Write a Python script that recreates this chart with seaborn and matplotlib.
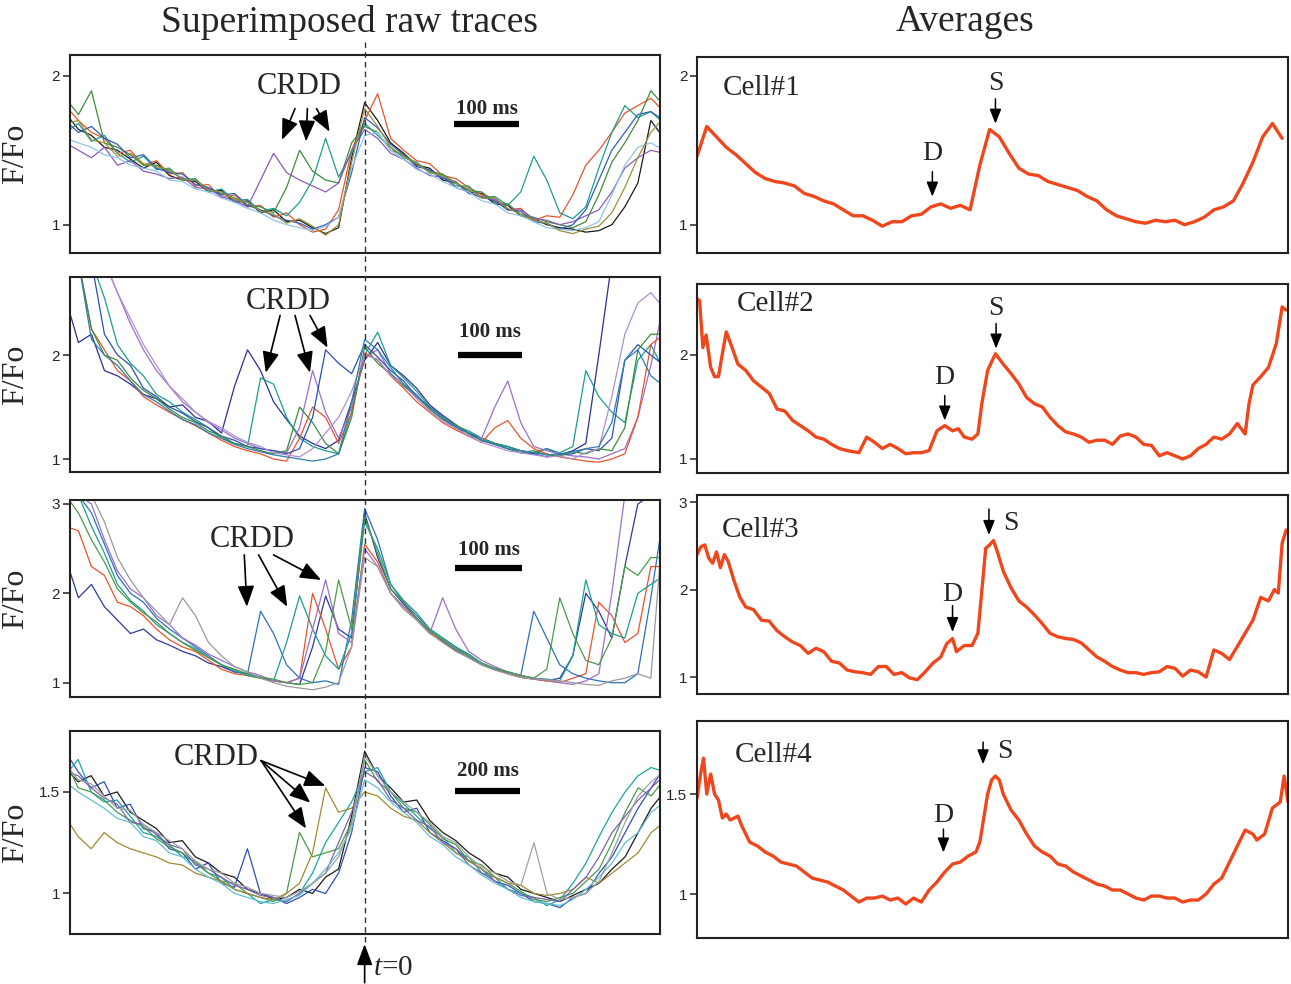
import numpy as np
import pandas as pd
import matplotlib.pyplot as plt
from matplotlib.lines import Line2D
import seaborn as sns

# sampling grids of the raw sweeps, ms from t=0
t_raw = np.arange(-460, 461, 20)
t_raw_slow = np.arange(-920, 921, 40)

# ---- superimposed raw traces (F/Fo), one list per sweep ----
raw1 = [
    [1.75, 1.64, 1.60, 1.52, 1.50, 1.44, 1.38, 1.42, 1.33, 1.30,
     1.29, 1.22, 1.23, 1.15, 1.16, 1.08, 1.10, 1.02, 1.03, 0.98,
     0.94, 0.98, 1.45, 1.82, 1.70, 1.55, 1.48, 1.40, 1.38, 1.30,
     1.28, 1.22, 1.21, 1.14, 1.13, 1.06, 1.04, 1.00, 0.98, 0.97,
     0.95, 0.96, 1.00, 1.12, 1.28, 1.70, 1.58],
    [1.80, 1.70, 1.62, 1.58, 1.48, 1.50, 1.40, 1.43, 1.34, 1.35,
     1.26, 1.27, 1.18, 1.20, 1.12, 1.13, 1.05, 1.08, 1.00, 0.95,
     0.97, 1.10, 1.50, 1.70, 1.88, 1.58, 1.50, 1.43, 1.41, 1.33,
     1.31, 1.25, 1.20, 1.18, 1.10, 1.11, 1.03, 1.06, 1.05, 1.20,
     1.40, 1.50, 1.62, 1.75, 1.80, 1.85, 1.76],
    [1.62, 1.68, 1.56, 1.60, 1.48, 1.42, 1.46, 1.37, 1.38, 1.30,
     1.31, 1.22, 1.24, 1.16, 1.17, 1.09, 1.11, 1.06, 1.15, 1.30,
     1.58, 1.32, 1.48, 1.68, 1.60, 1.52, 1.45, 1.42, 1.35, 1.33,
     1.26, 1.26, 1.18, 1.19, 1.13, 1.22, 1.46, 1.30, 1.08, 1.04,
     1.12, 1.38, 1.62, 1.80, 1.72, 1.76, 1.68],
    [1.85, 1.74, 1.90, 1.55, 1.52, 1.47, 1.40, 1.40, 1.36, 1.31,
     1.30, 1.24, 1.21, 1.18, 1.13, 1.12, 1.08, 1.25, 1.50, 1.36,
     1.30, 1.28, 1.55, 1.66, 1.62, 1.50, 1.47, 1.41, 1.36, 1.34,
     1.28, 1.23, 1.22, 1.15, 1.14, 1.07, 1.05, 1.02, 1.00, 0.98,
     1.02, 1.20, 1.42, 1.55, 1.70, 1.90, 1.80],
    [1.55, 1.50, 1.45, 1.52, 1.40, 1.43, 1.36, 1.34, 1.31, 1.32,
     1.25, 1.24, 1.19, 1.16, 1.12, 1.30, 1.48, 1.35, 1.30, 1.26,
     1.22, 1.28, 1.50, 1.64, 1.58, 1.48, 1.44, 1.38, 1.33, 1.32,
     1.25, 1.22, 1.18, 1.17, 1.10, 1.10, 1.04, 1.03, 1.00, 1.02,
     1.06, 1.10, 1.22, 1.38, 1.45, 1.50, 1.48],
    [1.70, 1.62, 1.66, 1.58, 1.54, 1.45, 1.47, 1.38, 1.35, 1.34,
     1.27, 1.25, 1.20, 1.21, 1.13, 1.10, 1.06, 1.03, 1.01, 0.97,
     1.00, 1.05, 1.35, 1.72, 1.65, 1.54, 1.47, 1.39, 1.37, 1.31,
     1.29, 1.21, 1.19, 1.16, 1.10, 1.09, 1.02, 1.01, 0.97, 1.00,
     1.10, 1.30, 1.50, 1.62, 1.74, 1.76, 1.70],
    [1.58, 1.55, 1.52, 1.47, 1.45, 1.40, 1.38, 1.36, 1.30, 1.29,
     1.24, 1.22, 1.18, 1.15, 1.11, 1.08, 1.03, 1.00, 0.98, 0.96,
     0.99, 1.05, 1.38, 1.60, 1.62, 1.50, 1.44, 1.37, 1.34, 1.29,
     1.25, 1.22, 1.16, 1.14, 1.08, 1.06, 1.02, 0.98, 0.97, 0.96,
     0.98, 1.02, 1.20, 1.40, 1.52, 1.55, 1.50],
    [1.68, 1.70, 1.57, 1.55, 1.46, 1.48, 1.41, 1.39, 1.37, 1.30,
     1.30, 1.23, 1.22, 1.17, 1.15, 1.09, 1.07, 1.01, 1.04, 0.99,
     0.93, 1.00, 1.42, 1.78, 1.66, 1.52, 1.46, 1.41, 1.35, 1.33,
     1.28, 1.24, 1.18, 1.18, 1.11, 1.07, 1.03, 1.01, 0.96, 0.94,
     0.97, 0.99, 1.08, 1.25, 1.45, 1.62, 1.72],
]
raw2 = [
    [2.55, 2.12, 2.20, 1.85, 1.80, 1.72, 1.62, 1.58, 1.50, 1.52,
     1.40, 1.36, 1.25, 1.70, 2.05, 1.85, 1.55, 1.38, 1.22, 1.15,
     1.10, 1.18, 1.55, 1.95, 2.12, 1.90, 1.80, 1.68, 1.52, 1.42,
     1.33, 1.25, 1.20, 1.15, 1.12, 1.08, 1.06, 1.10, 1.04, 1.08,
     1.15, 2.00, 2.90, 2.90, 2.90, 2.90, 2.90],
    [2.90, 2.90, 2.90, 2.55, 2.10, 1.92, 1.80, 1.62, 1.55, 1.45,
     1.38, 1.30, 1.20, 1.15, 1.12, 1.78, 1.72, 1.40, 1.20, 1.12,
     1.08, 1.05, 1.45, 2.00, 2.22, 1.90, 1.78, 1.65, 1.50, 1.40,
     1.32, 1.27, 1.20, 1.15, 1.12, 1.08, 1.05, 1.10, 1.06, 1.12,
     1.85, 1.60, 1.45, 1.35, 1.95, 2.10, 1.85],
    [2.90, 2.90, 2.90, 2.90, 2.60, 2.30, 2.05, 1.85, 1.70, 1.55,
     1.45, 1.35, 1.28, 1.20, 1.15, 1.10, 1.08, 1.06, 1.30, 1.85,
     1.45, 1.20, 1.50, 1.98, 2.05, 1.82, 1.72, 1.62, 1.48, 1.38,
     1.30, 1.22, 1.20, 1.50, 1.75, 1.35, 1.12, 1.08, 1.05, 1.03,
     1.02, 1.00, 1.05, 1.10, 1.40, 1.90, 2.50],
    [2.90, 2.90, 2.25, 2.05, 1.85, 1.75, 1.60, 1.52, 1.45, 1.38,
     1.32, 1.25, 1.18, 1.12, 1.08, 1.05, 1.00, 0.98, 1.20, 1.50,
     1.40, 1.15, 1.45, 2.02, 1.95, 1.80, 1.68, 1.55, 1.45, 1.35,
     1.28, 1.22, 1.16, 1.30, 1.37, 1.20, 1.10, 1.05, 1.02, 1.00,
     0.98, 0.97, 1.00, 1.05, 1.40, 2.10, 2.20],
    [2.90, 2.90, 2.90, 2.20, 2.00, 1.90, 1.68, 1.60, 1.50, 1.44,
     1.36, 1.30, 1.22, 1.18, 1.12, 1.10, 1.08, 1.05, 1.10, 1.40,
     2.05, 1.92, 1.82, 2.10, 1.98, 1.85, 1.75, 1.60, 1.50, 1.40,
     1.30, 1.25, 1.18, 1.14, 1.10, 1.06, 1.05, 1.02, 1.04, 1.05,
     1.10, 1.08, 1.20, 1.95, 2.10, 2.00, 1.90],
    [2.90, 2.90, 2.25, 2.00, 1.95, 1.78, 1.66, 1.58, 1.48, 1.40,
     1.35, 1.27, 1.22, 1.15, 1.12, 1.08, 1.05, 1.08, 1.50, 1.35,
     1.15, 1.05, 1.40, 2.08, 1.92, 1.82, 1.70, 1.60, 1.48, 1.38,
     1.33, 1.24, 1.18, 1.15, 1.10, 1.06, 1.08, 1.04, 1.03, 1.07,
     1.05, 1.10, 1.08, 1.30, 2.05, 2.20, 2.20],
    [2.90, 2.90, 2.90, 2.90, 2.60, 2.35, 2.10, 1.90, 1.70, 1.58,
     1.45, 1.36, 1.30, 1.22, 1.16, 1.12, 1.06, 1.04, 1.02, 1.10,
     1.25, 1.40, 1.65, 2.00, 1.96, 1.80, 1.72, 1.58, 1.46, 1.36,
     1.30, 1.22, 1.16, 1.12, 1.08, 1.06, 1.04, 1.02, 1.03, 1.00,
     1.06, 1.10, 1.60, 2.20, 2.50, 2.60, 2.45],
    [2.90, 2.90, 2.15, 2.00, 1.90, 1.75, 1.62, 1.55, 1.46, 1.38,
     1.33, 1.25, 1.20, 1.14, 1.10, 1.07, 1.04, 1.02, 1.00, 0.98,
     1.00, 1.05, 1.55, 2.15, 2.05, 1.88, 1.72, 1.60, 1.50, 1.40,
     1.31, 1.25, 1.18, 1.14, 1.10, 1.08, 1.06, 1.04, 1.05, 1.07,
     1.10, 1.12, 1.35, 1.95, 2.05, 1.80, 1.70],
]
raw3 = [
    [2.40, 1.95, 2.10, 1.85, 1.70, 1.55, 1.60, 1.48, 1.42, 1.35,
     1.30, 1.22, 1.18, 1.12, 1.10, 1.06, 1.02, 1.00, 0.98, 1.40,
     1.97, 1.60, 1.50, 2.90, 2.40, 2.05, 1.88, 1.72, 1.58, 1.46,
     1.36, 1.28, 1.20, 1.15, 1.10, 1.06, 1.04, 1.02, 1.05, 1.30,
     2.00, 1.80, 1.50, 2.30, 3.00, 3.10, 3.10],
    [2.75, 2.70, 2.30, 2.20, 1.90, 1.85, 1.75, 1.60, 1.48, 1.40,
     1.35, 1.25, 1.15, 1.10, 1.08, 1.05, 1.02, 1.00, 1.05, 2.00,
     1.60, 1.15, 1.40, 2.55, 2.35, 2.00, 1.85, 1.72, 1.56, 1.48,
     1.38, 1.30, 1.20, 1.15, 1.10, 1.06, 1.04, 1.02, 1.00, 1.05,
     1.10, 1.90, 1.75, 1.45, 1.55, 2.30, 2.30],
    [3.10, 3.10, 2.90, 2.55, 2.20, 2.00, 1.90, 1.72, 1.60, 1.50,
     1.40, 1.30, 1.20, 1.12, 1.10, 1.80, 1.55, 1.20, 1.05, 1.00,
     1.02, 0.98, 1.70, 2.95, 2.60, 2.10, 1.90, 1.75, 1.60, 1.50,
     1.40, 1.30, 1.20, 1.15, 1.12, 1.08, 1.80, 1.50, 1.20, 1.10,
     1.05, 1.02, 1.00, 1.00, 1.10, 1.95, 2.90],
    [3.10, 3.10, 2.75, 2.45, 2.10, 1.92, 1.80, 1.65, 1.55, 1.45,
     1.38, 1.28, 1.20, 1.14, 1.08, 1.05, 1.02, 1.45, 1.97, 1.60,
     1.30, 1.15, 1.55, 2.80, 2.50, 2.10, 1.92, 1.78, 1.60, 1.50,
     1.40, 1.32, 1.22, 1.16, 1.12, 1.08, 1.05, 1.04, 1.02, 1.30,
     2.15, 1.65, 1.55, 1.50, 2.00, 2.10, 2.20],
    [3.10, 3.10, 3.00, 2.60, 2.25, 2.05, 1.95, 1.75, 1.65, 1.50,
     1.42, 1.32, 1.25, 1.18, 1.12, 1.08, 1.02, 1.00, 1.05, 1.60,
     2.15, 1.55, 1.45, 2.50, 2.30, 2.00, 1.85, 1.70, 1.55, 1.95,
     1.60, 1.35, 1.25, 1.18, 1.12, 1.08, 1.05, 1.03, 1.00, 0.98,
     1.02, 1.10, 2.00, 3.10, 3.10, 3.10, 3.10],
    [3.10, 2.90, 2.60, 2.35, 2.05, 1.90, 1.78, 1.68, 1.55, 1.45,
     1.36, 1.28, 1.20, 1.15, 1.10, 1.06, 1.04, 1.00, 0.98, 1.00,
     1.35, 2.15, 1.60, 2.85, 2.45, 2.05, 1.90, 1.72, 1.58, 1.48,
     1.38, 1.30, 1.22, 1.16, 1.12, 1.08, 1.05, 1.15, 1.95, 1.55,
     1.25, 1.20, 1.50, 2.30, 2.20, 2.40, 2.40],
    [3.10, 3.10, 3.10, 2.80, 2.40, 2.15, 1.95, 1.80, 1.65, 1.95,
     1.75, 1.45, 1.30, 1.18, 1.12, 1.05, 1.00, 0.96, 0.94, 0.92,
     0.95, 1.00, 1.40, 2.40, 2.30, 2.00, 1.82, 1.70, 1.55, 1.45,
     1.35, 1.28, 1.20, 1.14, 1.10, 1.06, 1.04, 1.03, 1.02, 1.00,
     0.98, 0.97, 1.02, 1.05, 1.10, 1.05, 2.90],
]
raw4 = [
    [1.62, 1.55, 1.58, 1.48, 1.50, 1.40, 1.36, 1.32, 1.25, 1.26,
     1.18, 1.15, 1.10, 1.08, 1.02, 1.00, 0.97, 0.98, 1.02, 1.00,
     1.08, 1.12, 1.38, 1.70, 1.58, 1.52, 1.45, 1.46, 1.36, 1.30,
     1.26, 1.20, 1.16, 1.10, 1.08, 1.02, 1.00, 0.98, 0.96, 0.99,
     1.02, 1.05, 1.12, 1.18, 1.30, 1.42, 1.50],
    [1.70, 1.60, 1.52, 1.55, 1.42, 1.44, 1.32, 1.30, 1.22, 1.20,
     1.12, 1.15, 1.05, 1.03, 1.22, 1.00, 0.98, 0.95, 0.98, 1.02,
     1.00, 1.10, 1.30, 1.62, 1.60, 1.48, 1.40, 1.42, 1.30, 1.26,
     1.22, 1.16, 1.12, 1.06, 1.04, 1.00, 0.96, 0.95, 0.93, 0.98,
     1.00, 1.10, 1.18, 1.30, 1.42, 1.52, 1.62],
    [1.58, 1.66, 1.50, 1.45, 1.46, 1.38, 1.30, 1.28, 1.24, 1.18,
     1.16, 1.10, 1.08, 1.02, 1.00, 0.95, 0.97, 0.96, 1.00, 1.10,
     1.25, 1.35, 1.45, 1.60, 1.62, 1.50, 1.44, 1.38, 1.32, 1.28,
     1.20, 1.18, 1.10, 1.08, 1.02, 1.00, 0.98, 0.94, 0.97, 1.05,
     1.15, 1.28, 1.40, 1.50, 1.58, 1.62, 1.60],
    [1.66, 1.52, 1.50, 1.46, 1.40, 1.36, 1.33, 1.27, 1.23, 1.20,
     1.15, 1.10, 1.06, 1.05, 1.00, 0.98, 0.96, 1.00, 1.30, 1.18,
     1.20, 1.22, 1.35, 1.66, 1.55, 1.50, 1.42, 1.40, 1.34, 1.27,
     1.24, 1.16, 1.14, 1.08, 1.05, 1.01, 0.97, 0.96, 0.98, 1.00,
     1.06, 1.12, 1.25, 1.40, 1.52, 1.48, 1.56],
    [1.38, 1.28, 1.22, 1.30, 1.25, 1.22, 1.20, 1.18, 1.15, 1.14,
     1.10, 1.08, 1.06, 1.02, 1.00, 0.98, 0.97, 1.00, 1.05, 1.20,
     1.52, 1.40, 1.42, 1.50, 1.48, 1.42, 1.38, 1.36, 1.30, 1.25,
     1.20, 1.16, 1.12, 1.08, 1.05, 1.04, 1.00, 0.99, 1.00, 1.02,
     1.08, 1.05, 1.10, 1.15, 1.20, 1.30, 1.35],
    [1.60, 1.58, 1.52, 1.47, 1.44, 1.35, 1.34, 1.29, 1.24, 1.22,
     1.14, 1.12, 1.08, 1.04, 1.02, 0.99, 0.98, 0.96, 1.00, 1.05,
     1.10, 1.25, 1.40, 1.60, 1.56, 1.46, 1.42, 1.36, 1.33, 1.25,
     1.22, 1.14, 1.10, 1.06, 1.02, 0.99, 0.98, 0.97, 0.96, 1.02,
     1.08, 1.18, 1.30, 1.38, 1.46, 1.52, 1.58],
    [1.55, 1.50, 1.46, 1.42, 1.37, 1.35, 1.28, 1.26, 1.20, 1.18,
     1.12, 1.08, 1.05, 1.00, 0.98, 0.96, 0.95, 0.97, 0.99, 1.05,
     1.12, 1.20, 1.32, 1.56, 1.52, 1.45, 1.40, 1.35, 1.28, 1.24,
     1.18, 1.14, 1.09, 1.05, 1.02, 0.98, 0.96, 0.95, 0.94, 0.97,
     1.02, 1.08, 1.15, 1.25, 1.30, 1.40, 1.45],
    [1.64, 1.56, 1.54, 1.48, 1.42, 1.41, 1.34, 1.30, 1.26, 1.22,
     1.16, 1.12, 1.10, 1.05, 1.03, 1.00, 0.99, 0.98, 1.01, 1.05,
     1.10, 1.18, 1.34, 1.68, 1.58, 1.50, 1.45, 1.40, 1.35, 1.28,
     1.25, 1.18, 1.13, 1.10, 1.06, 1.04, 1.25, 1.00, 0.97, 0.98,
     1.00, 1.06, 1.20, 1.35, 1.48, 1.55, 1.60],
]

# ---- averages (time in ms from window start, F/Fo) ----
cell1_t = np.arange(0, 901, 15)
cell1_f = [1.46, 1.66, 1.59, 1.52, 1.47, 1.41, 1.35, 1.31, 1.29, 1.28,
           1.26, 1.21, 1.19, 1.16, 1.14, 1.10, 1.06, 1.06, 1.03, 0.99,
           1.02, 1.02, 1.06, 1.07, 1.12, 1.14, 1.11, 1.13, 1.10, 1.40,
           1.64, 1.59, 1.48, 1.38, 1.34, 1.33, 1.29, 1.27, 1.25, 1.23,
           1.19, 1.16, 1.10, 1.06, 1.04, 1.02, 1.01, 1.03, 1.02, 1.03,
           1.00, 1.02, 1.05, 1.10, 1.12, 1.16, 1.28, 1.42, 1.59, 1.68, 1.58]

cell2_t = [0, 4, 9, 14, 21, 27, 33, 39, 45, 51,
           63, 75, 87, 99, 111, 123, 135, 147, 159, 171,
           183, 195, 207, 219, 231, 249, 261, 273, 285, 297,
           309, 321, 333, 345, 357, 369, 381, 393, 402, 411,
           423, 432, 438, 447, 459, 471, 483, 495, 507, 519,
           531, 543, 555, 567, 579, 591, 603, 615, 627, 639,
           651, 663, 675, 687, 699, 711, 723, 735, 747, 759,
           771, 783, 795, 807, 819, 831, 843, 849, 855, 867,
           879, 891, 900, 906]
cell2_f = [2.54, 2.52, 2.07, 2.19, 1.88, 1.79, 1.79, 2.01, 2.22, 2.12,
           1.91, 1.85, 1.75, 1.69, 1.63, 1.48, 1.46, 1.37, 1.32, 1.27,
           1.21, 1.19, 1.14, 1.10, 1.08, 1.06, 1.21, 1.16, 1.10, 1.14,
           1.10, 1.05, 1.06, 1.06, 1.08, 1.27, 1.32, 1.27, 1.29, 1.21,
           1.19, 1.24, 1.53, 1.85, 2.01, 1.91, 1.82, 1.72, 1.59, 1.53,
           1.50, 1.40, 1.32, 1.26, 1.24, 1.21, 1.16, 1.18, 1.18, 1.14,
           1.22, 1.24, 1.21, 1.14, 1.13, 1.03, 1.06, 1.03, 1.00, 1.03,
           1.10, 1.14, 1.21, 1.19, 1.24, 1.34, 1.24, 1.53, 1.71, 1.79,
           1.88, 2.11, 2.46, 2.43]

cell3_t = [0, 6, 12, 18, 24, 30, 36, 42, 48, 57,
           66, 75, 87, 99, 111, 123, 135, 147, 159, 171,
           183, 195, 207, 219, 231, 243, 255, 267, 279, 291,
           303, 315, 327, 339, 351, 363, 375, 384, 393, 399,
           411, 423, 432, 438, 444, 450, 456, 462, 471, 483,
           495, 507, 519, 531, 543, 555, 567, 579, 591, 603,
           615, 627, 639, 651, 663, 675, 687, 699, 711, 723,
           735, 747, 759, 771, 783, 795, 807, 819, 831, 843,
           855, 867, 879, 888, 894, 900, 906, 909]
cell3_f = [2.40, 2.49, 2.51, 2.36, 2.30, 2.43, 2.25, 2.40, 2.32, 2.10,
           1.91, 1.80, 1.77, 1.65, 1.64, 1.53, 1.46, 1.40, 1.36, 1.27,
           1.33, 1.29, 1.18, 1.16, 1.08, 1.06, 1.05, 1.03, 1.12, 1.12,
           1.03, 1.05, 0.99, 0.97, 1.06, 1.16, 1.23, 1.38, 1.44, 1.29,
           1.36, 1.36, 1.50, 1.98, 2.47, 2.51, 2.56, 2.43, 2.21, 2.02,
           1.87, 1.80, 1.71, 1.61, 1.50, 1.46, 1.44, 1.43, 1.39, 1.31,
           1.23, 1.18, 1.12, 1.08, 1.05, 1.05, 1.03, 1.05, 1.06, 1.12,
           1.10, 1.01, 1.08, 1.06, 1.00, 1.31, 1.27, 1.20, 1.35, 1.50,
           1.65, 1.91, 1.87, 2.00, 1.96, 2.53, 2.68, 2.64]

cell4_t = [0, 6, 10, 15, 21, 27, 33, 39, 45, 51,
           63, 69, 81, 93, 105, 117, 129, 141, 153, 165,
           177, 189, 201, 213, 225, 237, 249, 261, 273, 285,
           297, 309, 321, 333, 345, 357, 369, 381, 393, 405,
           417, 429, 435, 441, 447, 453, 459, 465, 471, 483,
           495, 507, 519, 531, 543, 555, 567, 579, 591, 603,
           615, 627, 639, 651, 663, 675, 687, 699, 711, 723,
           735, 747, 759, 771, 783, 795, 807, 819, 831, 843,
           855, 861, 873, 885, 897, 903, 909]
cell4_f = [1.48, 1.61, 1.68, 1.50, 1.60, 1.50, 1.47, 1.38, 1.40, 1.37,
           1.39, 1.34, 1.26, 1.24, 1.21, 1.19, 1.16, 1.15, 1.14, 1.11,
           1.08, 1.07, 1.06, 1.04, 1.02, 0.99, 0.96, 0.98, 0.98, 0.99,
           0.97, 0.98, 0.95, 0.98, 0.96, 1.02, 1.06, 1.11, 1.15, 1.16,
           1.19, 1.21, 1.26, 1.38, 1.50, 1.57, 1.59, 1.57, 1.50, 1.42,
           1.37, 1.30, 1.24, 1.21, 1.19, 1.15, 1.14, 1.11, 1.09, 1.07,
           1.05, 1.04, 1.02, 1.02, 1.00, 0.98, 0.97, 0.99, 0.99, 0.98,
           0.98, 0.96, 0.97, 0.97, 1.00, 1.05, 1.08, 1.16, 1.24, 1.32,
           1.30, 1.27, 1.30, 1.43, 1.46, 1.59, 1.46]

cell_names = ["Cell#1", "Cell#2", "Cell#3", "Cell#4"]
scale_labels = ["100 ms", "100 ms", "100 ms", "200 ms"]

pal1 = ["#1a1a1a", "#e8532b", "#1b9e8f", "#3c8d3c", "#8b5bb8", "#2f5fb8", "#8ec5e8", "#9a8f3a"]
pal2 = ["#2b2f8f", "#1b9e8f", "#9a6fc9", "#e8532b", "#2d4fb5", "#3c8d3c", "#b08fd0", "#2d7fb0"]
pal3 = ["#2b3a9a", "#e8532b", "#2f6fc0", "#1b9e8f", "#9a6fc9", "#4a9a4a", "#9a9a9a"]
pal4 = ["#1a1a1a", "#2f4fb8", "#1ba5a0", "#4a9a4a", "#a08a30", "#8060b0", "#60c0d0", "#a0a0a0"]

sns.set_style("white")
plt.rcParams["font.family"] = ["Liberation Serif", "DejaVu Serif"]
plt.rcParams["mathtext.fontset"] = "custom"
plt.rcParams["mathtext.it"] = "Liberation Serif:italic"
plt.rcParams["mathtext.rm"] = "Liberation Serif"

SERIF = "Liberation Serif"
SANS = "Liberation Sans"
AVG_COLOR = "#f0461c"

fig = plt.figure(figsize=(12.91, 9.84), dpi=100)

left_boxes = [(0.0542, 0.7429, 0.457, 0.2012), (0.0542, 0.5203, 0.457, 0.1982),
              (0.0542, 0.2917, 0.457, 0.2002), (0.0542, 0.0508, 0.457, 0.2063)]
right_boxes = [(0.5399, 0.7429, 0.4578, 0.1992), (0.5399, 0.5193, 0.4578, 0.1921),
               (0.5399, 0.2947, 0.4578, 0.2022), (0.5399, 0.0467, 0.4578, 0.2205)]


def style_axes(ax, xlim, ylim, yticks, yticklabels):
    ax.set_xlim(*xlim)
    ax.set_ylim(*ylim)
    ax.set_xticks([])
    ax.set_yticks(yticks)
    ax.set_yticklabels(yticklabels, fontfamily=SANS, fontsize=11)
    ax.tick_params(axis="y", left=True, length=5, width=1.1, direction="out", pad=2, color="#222")
    for sp in ax.spines.values():
        sp.set_visible(True)
        sp.set_linewidth(1.5)
        sp.set_color("#222")
    ax.set_xlabel("")
    ax.set_ylabel("")


def draw_raw(ax, t, traces, colors):
    frames = [pd.DataFrame({"t": t, "F": tr, "sweep": f"s{k}"}) for k, tr in enumerate(traces)]
    df = pd.concat(frames, ignore_index=True)
    sns.lineplot(data=df, x="t", y="F", hue="sweep", palette=colors, estimator=None,
                 lw=0.9, legend=False, sort=False, ax=ax)


def arrow(ax, start, tip, scale=16, lw=1.2):
    ax.annotate("", xy=tip, xytext=start,
                arrowprops=dict(arrowstyle="-|>,head_length=0.8,head_width=0.32",
                                color="black", lw=lw, shrinkA=0, shrinkB=0,
                                mutation_scale=scale))


# ---------------- left column ----------------
raw_sets = [(t_raw, raw1, pal1), (t_raw, raw2, pal2), (t_raw, raw3, pal3), (t_raw_slow, raw4, pal4)]
left_xlims = [(-453, 454), (-453, 454), (-453, 454), (-905, 907)]
left_ylims = [(0.81, 2.14), (0.875, 2.75), (0.84, 3.045), (0.80, 1.80)]
tick_sets = [([1, 2], ["1", "2"]), ([1, 2], ["1", "2"]), ([1, 2, 3], ["1", "2", "3"]),
             ([1, 1.5], ["1", "1.5"])]
# scale bar (t0, t1, level), label level
bars = [(137, 238, 1.676, 1.78), (143, 242, 2.0, 2.225), (139, 242, 2.28, 2.49), (278, 478, 1.505, 1.605)]
# CRDD label position and arrows (start, tip)
crdd = [
    ((-100, 1.93), [((-107, 1.78), (-127, 1.57)), ((-88, 1.78), (-90, 1.56)), ((-74, 1.78), (-54, 1.625))]),
    ((-117, 2.51), [((-130, 2.38), (-152, 1.83)), ((-107, 2.38), (-84, 1.83)), ((-84, 2.38), (-57, 2.07))]),
    ((-173, 2.60), [((-185, 2.43), (-181, 1.85)), ((-163, 2.43), (-119, 1.85)), ((-140, 2.43), (-67, 2.15))]),
    ((-457, 1.67), [((-318, 1.654), (-121, 1.53)), ((-318, 1.654), (-167, 1.447)), ((-318, 1.654), (-180, 1.32))]),
]

left_axes = []
for i in range(4):
    ax = fig.add_axes(left_boxes[i])
    t, traces, pal = raw_sets[i]
    draw_raw(ax, t, traces, pal)
    style_axes(ax, left_xlims[i], left_ylims[i], *tick_sets[i])
    ax.set_ylabel("F/Fo", fontsize=23, fontfamily=SERIF)
    ax.yaxis.set_label_coords(-0.068, 0.5)
    b0, b1, lev, lab = bars[i]
    ax.plot([b0, b1], [lev, lev], color="black", lw=4.5, solid_capstyle="butt")
    ax.text((b0 + b1) / 2, lab, scale_labels[i], ha="center", va="center",
            fontsize=15, fontweight="bold", fontfamily=SERIF)
    (tx, ty), arrs = crdd[i]
    ax.text(tx, ty, "CRDD", ha="center", va="center", fontsize=22, fontfamily=SERIF)
    for st, tp in arrs:
        arrow(ax, st, tp, scale=16, lw=1.2)
    left_axes.append(ax)

# t=0 marker under the bottom-left panel
ax4 = left_axes[3]
ax4.annotate("", xy=(0, -0.05), xytext=(0, -0.24), xycoords=("data", "axes fraction"),
             textcoords=("data", "axes fraction"), annotation_clip=False,
             arrowprops=dict(arrowstyle="-|>,head_length=0.8,head_width=0.3", color="black",
                             lw=1.2, shrinkA=0, shrinkB=0, mutation_scale=16))
ax4.text(26, -0.165, "$t$=0", transform=ax4.get_xaxis_transform(), ha="left", va="center",
         fontsize=21, fontfamily=SERIF)

# dashed t=0 line through the whole left column
x0_fig = fig.transFigure.inverted().transform(left_axes[0].transData.transform((0, 1)))[0]
fig.add_artist(Line2D([x0_fig, x0_fig], [1 - 42 / 984, 1 - 945 / 984], transform=fig.transFigure,
                      color="#333333", lw=1.0, ls=(0, (4, 3))))

# ---------------- right column ----------------
avg_sets = [(cell1_t, cell1_f), (cell2_t, cell2_f), (cell3_t, cell3_f), (cell4_t, cell4_f)]
right_ylims = [(0.81, 2.127), (0.865, 2.68), (0.806, 3.08), (0.78, 1.865)]
cell_pos = [(40, 1.92), (61, 2.49), (38, 2.68), (58, 1.695)]
# D: text pos, arrow start, arrow tip ; S: same
d_marks = [((362, 1.48), (362, 1.356), (362, 1.189)),
           ((381, 1.785), (381, 1.609), (381, 1.369)),
           ((393, 1.947), (393, 1.816), (393, 1.515)),
           ((379, 1.393), (379, 1.325), (379, 1.208))]
s_marks = [((459, 1.947), (459, 1.846), (459, 1.679)),
           ((460, 2.44), (460, 2.30), (460, 2.06)),
           ((482, 2.756), (449, 2.92), (449, 2.624)),
           ((474, 1.713), (440, 1.76), (440, 1.649))]

for i in range(4):
    ax = fig.add_axes(right_boxes[i])
    t, f = avg_sets[i]
    sns.lineplot(x=np.asarray(t), y=np.asarray(f), color=AVG_COLOR, lw=2.4, sort=False,
                 estimator=None, ax=ax)
    style_axes(ax, (0, 909), right_ylims[i], *tick_sets[i])
    ax.text(cell_pos[i][0], cell_pos[i][1], cell_names[i], ha="left", va="center",
            fontsize=21, fontfamily=SERIF)
    for (txt, st, tp), letter in ((d_marks[i], "D"), (s_marks[i], "S")):
        ax.text(txt[0], txt[1], letter, ha="center", va="center", fontsize=20, fontfamily=SERIF)
        arrow(ax, st, tp, scale=11, lw=1.1)

fig.text(350 / 1291, 1 - 22 / 984, "Superimposed raw traces", ha="center", va="center",
         fontsize=27, fontfamily=SERIF)
fig.text(965 / 1291, 1 - 22 / 984, "Averages", ha="center", va="center",
         fontsize=27, fontfamily=SERIF)

fig.savefig("out.png", dpi=100)
